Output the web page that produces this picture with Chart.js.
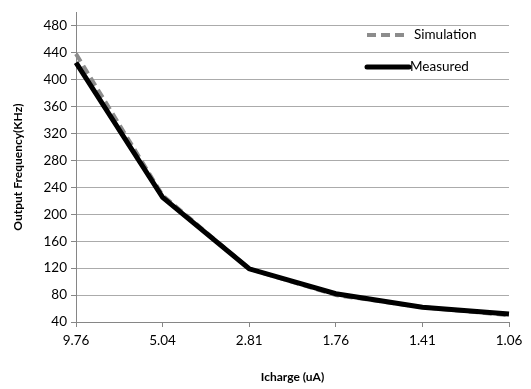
<!DOCTYPE html>
<html>
<head>
<meta charset="utf-8">
<script src="https://cdn.jsdelivr.net/npm/chart.js@4/dist/chart.umd.min.js"></script>
<style>
  html, body { margin: 0; padding: 0; background: #fff; }
  #wrap { width: 531px; height: 389px; }
</style>
</head>
<body>
<div id="wrap"><canvas id="freqChart" width="531" height="389"></canvas></div>
<script>
// 横轴类别（Icharge）
const chargeLabels = ['9.76', '5.04', '2.81', '1.76', '1.41', '1.06'];
// 仿真值
const simulationValues = [438, 228, 119, 80, 62, 50];
// 实测值
const measuredValues = [425, 225, 119, 82, 62, 52];
// 纵轴刻度
const yTickValues = [40, 80, 120, 160, 200, 240, 280, 320, 360, 400, 440, 480];
const yMin = 40;
const yMax = 500;

const fontFamily = 'Lato, "Open Sans", sans-serif';

// 图内图例
const innerLegend = {
    id: 'innerLegend',
    afterDraw(chart) {
        const ctx = chart.ctx;
        const x0 = 367, lineLen = 42;
        const rows = [35, 67];
        ctx.save();
        chart.data.datasets.forEach((ds, i) => {
            const y = rows[i];
            ctx.beginPath();
            ctx.strokeStyle = ds.borderColor;
            ctx.lineWidth = ds.borderWidth;
            ctx.lineCap = ds.borderDash.length ? 'butt' : 'round';
            ctx.setLineDash(ds.borderDash);
            ctx.moveTo(x0, y);
            ctx.lineTo(x0 + lineLen, y);
            ctx.stroke();
            ctx.setLineDash([]);
            ctx.fillStyle = '#000';
            ctx.font = '13.5px ' + fontFamily;
            ctx.textBaseline = 'middle';
            ctx.textAlign = 'left';
            ctx.fillText(ds.label, x0 + lineLen + (i === 0 ? 5 : 1), y);
        });
        ctx.restore();
    }
};

new Chart(document.getElementById('freqChart'), {
    type: 'line',
    data: {
        labels: chargeLabels,
        datasets: [{
            label: 'Simulation',
            data: simulationValues,
            borderColor: '#8c8c8c',
            borderWidth: 4,
            borderDash: [9, 5],
            pointRadius: 0,
            tension: 0,
            order: 1
        }, {
            label: 'Measured',
            data: measuredValues,
            borderColor: '#000000',
            borderWidth: 5,
            borderDash: [],
            pointRadius: 0,
            tension: 0,
            order: 0
        }]
    },
    options: {
        responsive: false,
        animation: false,
        layout: { padding: { top: 4, right: 22, left: 0, bottom: 0 } },
        plugins: {
            legend: { display: false },
            tooltip: { enabled: false }
        },
        scales: {
            x: {
                offset: false,
                grid: {
                    drawOnChartArea: false,
                    drawTicks: true,
                    tickLength: 5,
                    tickColor: '#868686'
                },
                border: { color: '#868686', width: 1 },
                ticks: {
                    color: '#000',
                    font: { family: fontFamily, size: 13.5 },
                    padding: 6,
                    maxRotation: 0
                },
                title: {
                    display: true,
                    text: 'Icharge (uA)',
                    color: '#000',
                    font: { family: fontFamily, size: 12, weight: 'bold' },
                    padding: { top: 10, bottom: 5 }
                },
                afterFit(scale) { scale.height = 67; }
            },
            y: {
                min: yMin,
                max: yMax,
                grid: {
                    color: '#ababab',
                    tickLength: 5,
                    tickColor: '#868686'
                },
                border: { color: '#868686', width: 1 },
                ticks: {
                    color: '#000',
                    font: { family: fontFamily, size: 13.5 },
                    padding: 4
                },
                afterBuildTicks(scale) {
                    scale.ticks = yTickValues.map(v => ({ value: v }));
                },
                title: {
                    display: true,
                    text: 'Output Frequency(KHz)',
                    color: '#000',
                    font: { family: fontFamily, size: 12, weight: 'bold' },
                    padding: { top: 11, bottom: 0 }
                },
                afterFit(scale) { scale.width = 76; }
            }
        }
    },
    plugins: [innerLegend]
});
</script>
</body>
</html>
